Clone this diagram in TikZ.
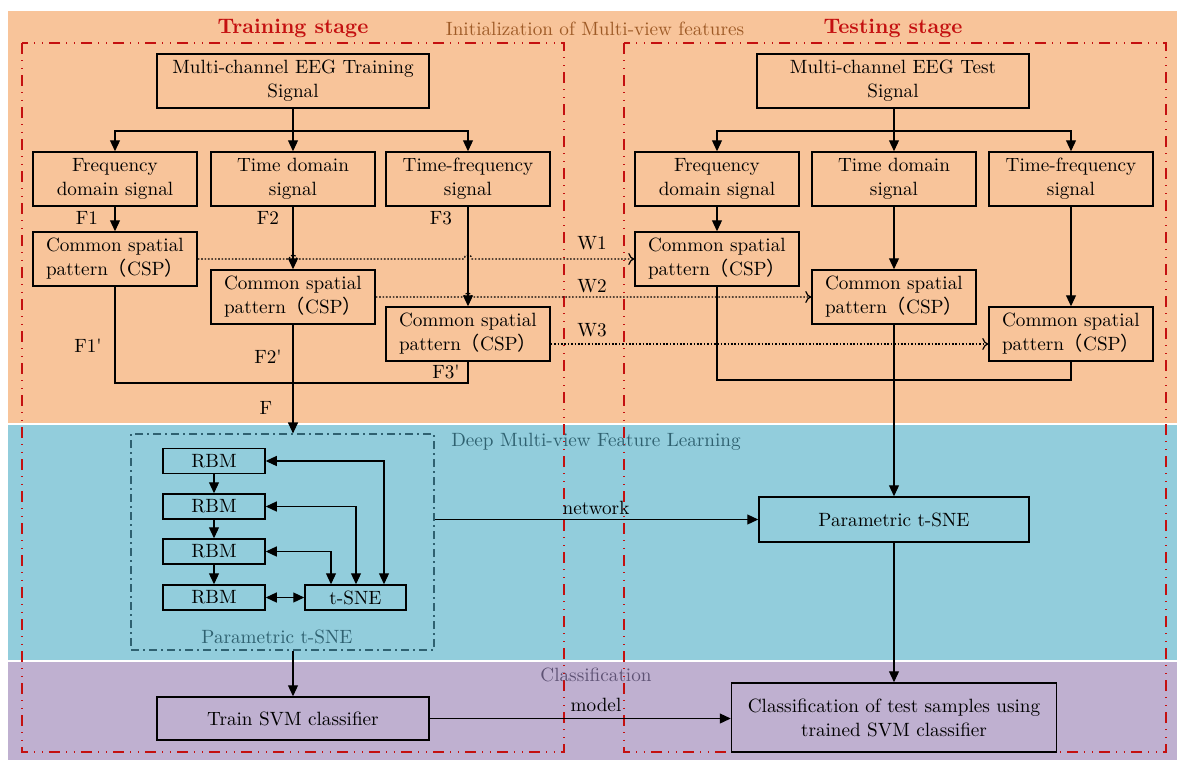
\documentclass[tikz,border=0pt]{standalone}
\usepackage{fontspec}
\newfontfamily\cjk{Noto Sans CJK SC}
\usetikzlibrary{arrows.meta}
\definecolor{bgorange}{RGB}{248,196,154}
\definecolor{bgblue}{RGB}{146,205,220}
\definecolor{bgpurple}{RGB}{191,176,208}
\definecolor{darkred}{RGB}{196,16,16}
\definecolor{brownlbl}{RGB}{158,90,38}
\definecolor{teallbl}{RGB}{47,97,112}
\definecolor{purplelbl}{RGB}{94,82,116}
\begin{document}
\begin{tikzpicture}[x=0.5pt,y=-0.5pt,
  every node/.style={font=\fontsize{9.6}{12}\selectfont},
  box/.style={draw=black, line width=0.75pt, align=center, inner sep=1pt},
  cspbox/.style={box, align=left, minimum width=82pt, minimum height=27pt},
  sigbox/.style={box, minimum width=82pt, minimum height=27pt},
  rbmbox/.style={box, minimum width=51pt, minimum height=12.5pt},
  conn/.style={line width=0.6pt},
  arr/.style={line width=0.6pt, -{Triangle[length=5.5pt,width=5pt]}},
  biarr/.style={line width=0.6pt, {Triangle[length=5.5pt,width=5pt]}-{Triangle[length=5.5pt,width=5pt]}},
  dotarr/.style={line width=0.6pt, dash pattern=on 0.8pt off 0.9pt, -{To[length=3pt,width=6pt]}},
  stagebox/.style={draw=darkred, line width=0.6pt, dash pattern=on 5.3pt off 3.3pt on 0.5pt off 3.3pt on 0.5pt off 3.1pt},
  titlelbl/.style={font=\fontsize{10.5}{12}\selectfont\bfseries, text=darkred},
]
\path[use as bounding box] (0,0) rectangle (1177,760);
\fill[white] (0,0) rectangle (1177,760);
\fill[bgorange] (8,11) rectangle (1177,423);
\fill[bgblue] (8,425) rectangle (1177,660);
\fill[bgpurple] (8,662) rectangle (1177,760);

% stage frames
\draw[stagebox] (22,43) rectangle (564,752);
\draw[stagebox] (624,43) rectangle (1166,752);

% titles
\node[titlelbl] (ttrain) at (293,28) {Training stage};
\node[titlelbl] (ttest) at (893,28) {Testing stage};
\node[text=brownlbl] (tinit) at (595,29) {Initialization of Multi-view features};
\node[text=teallbl] (tdeep) at (596,442) {Deep Multi-view Feature Learning};
\node[text=purplelbl] (tcls) at (596,675) {Classification};

% training nodes
\node[box, minimum width=136pt, minimum height=27pt] (t0) at (293,81) {Multi-channel EEG Training\\Signal};
\node[sigbox] (tf1) at (115,179) {Frequency\\domain signal};
\node[sigbox] (tf2) at (293,179) {Time domain\\signal};
\node[sigbox] (tf3) at (468,179) {Time-frequency\\signal};
\node[cspbox] (tc1) at (115,259) {Common spatial\\pattern{\cjk （}CSP{\cjk ）}};
\node[cspbox] (tc2) at (293,297) {Common spatial\\pattern{\cjk （}CSP{\cjk ）}};
\node[cspbox] (tc3) at (468,334) {Common spatial\\pattern{\cjk （}CSP{\cjk ）}};

% testing nodes
\node[box, minimum width=136pt, minimum height=27pt] (s0) at (893,81) {Multi-channel EEG Test\\Signal};
\node[sigbox] (sf1) at (717,179) {Frequency\\domain signal};
\node[sigbox] (sf2) at (894,179) {Time domain\\signal};
\node[sigbox] (sf3) at (1071,179) {Time-frequency\\signal};
\node[cspbox] (sc1) at (717,259) {Common spatial\\pattern{\cjk （}CSP{\cjk ）}};
\node[cspbox] (sc2) at (894,297) {Common spatial\\pattern{\cjk （}CSP{\cjk ）}};
\node[cspbox] (sc3) at (1071,334) {Common spatial\\pattern{\cjk （}CSP{\cjk ）}};

% branch connectors (training)
\coordinate (tb) at (293,131);
\draw[conn] (t0.south) -- (tb);
\draw[arr] (tb) -| (tf1.north);
\draw[arr] (tb) -| (tf3.north);
\draw[arr] (tb) -- (tf2.north);
\draw[arr] (tf1.south) -- (tc1.north);
\draw[arr] (tf2.south) -- (tc2.north);
\draw[arr] (tf3.south) -- (tc3.north);

% branch connectors (testing)
\coordinate (sb) at (894,131);
\draw[conn] (s0.south -| sb) -- (sb);
\draw[arr] (sb) -| (sf1.north);
\draw[arr] (sb) -| (sf3.north);
\draw[arr] (sb) -- (sf2.north);
\draw[arr] (sf1.south) -- (sc1.north);
\draw[arr] (sf2.south) -- (sc2.north);
\draw[arr] (sf3.south) -- (sc3.north);

% feature labels
\node (lf1) at (87,218) {F1};
\node (lf2) at (268,218) {F2};
\node (lf3) at (441,218) {F3};
\node (lf1p) at (88,346) {F1\textquotesingle};
\node (lf2p) at (268,357) {F2\textquotesingle};
\node (lf3p) at (446,372) {F3\textquotesingle};
\node (lf) at (266,408) {F};

% parametric t-SNE frame
\node[draw=teallbl, line width=0.6pt, dash pattern=on 4pt off 2.2pt on 0.6pt off 2.2pt,
      minimum width=151.5pt, minimum height=108pt, inner sep=0pt] (pbox) at (282.5,542) {};
\node[text=teallbl] (plbl) at (277,637) {Parametric t-SNE};

% merges
\coordinate (tm) at (293,383);
\draw[conn] (tc1.south) |- (tm);
\draw[conn] (tc3.south) |- (tm);
\draw[arr] (tc2.south) -- (tc2.south |- pbox.north);

\coordinate (sm) at (894,380);
\draw[conn] (sc1.south) |- (sm);
\draw[conn] (sc3.south) |- (sm);

% dotted W arrows
\draw[dotarr] (tc1.east) -- (289,259) arc[start angle=180,end angle=360,radius=4] -- (464,259) arc[start angle=180,end angle=360,radius=4] -- (sc1.west);
\draw[dotarr] (tc2.east) -- (464,297) arc[start angle=180,end angle=360,radius=4] -- (sc2.west);
\draw[dotarr] ([yshift=-5pt]tc3.east) -- ([yshift=-5pt]sc3.west);
\node (lw1) at (592,243) {W1};
\node (lw2) at (592,286) {W2};
\node (lw3) at (592,330) {W3};

% RBM stack
\node[rbmbox] (r1) at (214,461) {RBM};
\node[rbmbox] (r2) at (214,506.5) {RBM};
\node[rbmbox] (r3) at (214,551.5) {RBM};
\node[rbmbox] (r4) at (214,597.5) {RBM};
\node[box, minimum width=50.5pt, minimum height=12.5pt] (ts) at (355.5,597.5) {t-SNE};
\draw[arr] (r1) -- (r2);
\draw[arr] (r2) -- (r3);
\draw[arr] (r3) -- (r4);
\draw[biarr] (r1.east) -| ([xshift=14.25pt]ts.north);
\draw[biarr] (r2.east) -| ([xshift=0.25pt]ts.north);
\draw[biarr] (r3.east) -| ([xshift=-12.25pt]ts.north);
\draw[biarr] (r4) -- (ts);

% testing parametric t-SNE
\node[box, minimum width=135pt, minimum height=22.5pt] (tps) at (894,519.5) {Parametric t-SNE};
\draw[arr] (sc2.south) -- (tps.north);
\draw[arr] (pbox.east |- tps.west) -- (tps.west);
\node (lnet) at (596,508) {network};

% classification
\node[box, minimum width=136pt, minimum height=21.5pt] (svm) at (293,718.5) {Train SVM classifier};
\node[box, minimum width=162.5pt, minimum height=34.5pt] (cls) at (894,717.5) {Classification of test samples using\\trained SVM classifier};
\draw[arr] (svm.north |- pbox.south) -- (svm.north);
\draw[arr] (tps.south) -- (cls.north);
\draw[arr] (svm.east) -- (svm.east -| cls.west);
\node (lmodel) at (596,705) {model};
\end{tikzpicture}
\end{document}
